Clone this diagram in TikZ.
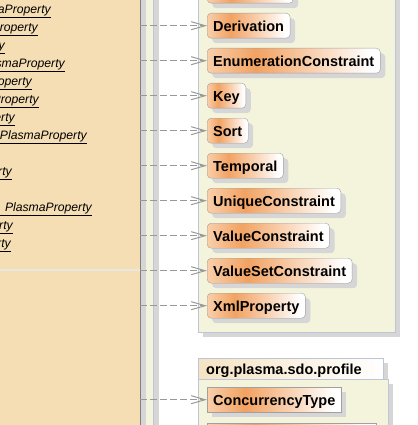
\documentclass[tikz,border=0pt]{standalone}
\usepackage{fontspec}
\setmainfont{Liberation Sans}
\usetikzlibrary{positioning,arrows.meta,shadows}

\definecolor{tanfill}{HTML}{F5DEB3}
\definecolor{pkgfill}{HTML}{F4F4DC}
\definecolor{pkgline}{HTML}{BCC6D8}
\definecolor{shadowgray}{HTML}{D6D6D6}
\definecolor{clsedge}{HTML}{F9CFAA}
\definecolor{clsmid}{HTML}{F2A262}
\definecolor{clsline}{HTML}{A0A0A0}
\definecolor{deparrow}{HTML}{999999}
\definecolor{tabfill}{HTML}{F5E3C2}
\definecolor{sepline}{HTML}{E9E7E2}

\pgfdeclarehorizontalshading{clsshade}{100bp}{color(0bp)=(clsedge); color(25bp)=(clsedge); color(39bp)=(clsmid); color(72bp)=(white); color(100bp)=(white)}

\tikzset{
  cls/.style={draw=clsline, shade, shading=clsshade, rounded corners=4pt,
    minimum height=25pt, inner xsep=6pt, text height=12pt, text depth=0pt,
    font=\bfseries\fontsize{14.5}{16}\selectfont,
    drop shadow={shadow xshift=5pt, shadow yshift=-5pt, fill=shadowgray, opacity=1}},
  clsbox/.style={cls, sharp corners},
  attr/.style={anchor=base east, inner sep=0pt, font=\itshape\fontsize{12.2}{14}\selectfont},
  dep/.style={draw=deparrow, line width=1pt, dash pattern=on 7pt off 3pt,
    -{Straight Barb[length=14pt,width=8pt]}},
}

\begin{document}
\begin{tikzpicture}[x=1pt, y=-1pt]
  \useasboundingbox (0,0) rectangle (417,425);
  \clip (0,0) rectangle (417,425);

  % left package with the PlasmaProperty class
  \fill[shadowgray] (-50,-50) rectangle (159,480);
  \filldraw[fill=pkgfill, draw=pkgline] (-50,-50) rectangle (153,480);
  \fill[shadowgray] (-50,-50) rectangle (146,480);
  \node (props) [draw=gray, fill=tanfill, minimum width=300pt, minimum height=540pt,
    anchor=north east, inner sep=0pt] at (140,-60) {};
  \coordinate (sep) at (0,270);
  \draw[sepline, line width=2pt] (props.west |- sep) -- (props.east |- sep);

  \node (a1) [attr] at (51,13.5) {\underline{derivation : PlasmaProperty}};
  \node (a2) [attr] at (38,31.5) {\underline{enumerationConstraint : PlasmaProperty}};
  \node (a3) [attr] at (5,49.5) {\underline{key : PlasmaProperty}};
  \node (a4) [attr] at (65,67.5) {\underline{sort : PlasmaProperty}};
  \node (a5) [attr] at (32,85.5) {\underline{temporal : PlasmaProperty}};
  \node (a6) [attr] at (39,103.5) {\underline{uniqueConstraint : PlasmaProperty}};
  \node (a7) [attr] at (15,121.5) {\underline{valueConstraint : PlasmaProperty}};
  \node (a8) [attr] at (87,139.5) {\underline{valueSetConstraint : PlasmaProperty}};
  \node (a9) [attr] at (12,175.5) {\underline{xmlProperty : PlasmaProperty}};
  \node (a10) [attr] at (92,211.5) {\underline{concurrency : PlasmaProperty}};
  \node (a11) [attr] at (13,229.5) {\underline{increment : PlasmaProperty}};
  \node (a12) [attr] at (11,247.5) {\underline{reference : PlasmaProperty}};

  % org.plasma.sdo.annotation
  \fill[shadowgray] (203,-45) rectangle (400,337);
  \filldraw[fill=pkgfill, draw=pkgline] (198,-50) rectangle (395,332);

  \node (prev) [cls, anchor=north west, minimum width=86pt] at (207,-22) {};
  \node (deriv) [cls, below=9.6pt of prev.south west, anchor=north west] {Derivation};
  \node (enum) [cls, below=9.6pt of deriv.south west, anchor=north west] {EnumerationConstraint};
  \node (key) [cls, below=9.6pt of enum.south west, anchor=north west] {Key};
  \node (sort) [cls, below=9.6pt of key.south west, anchor=north west] {Sort};
  \node (temp) [cls, below=9.6pt of sort.south west, anchor=north west] {Temporal};
  \node (uniq) [cls, below=9.6pt of temp.south west, anchor=north west] {UniqueConstraint};
  \node (val) [cls, below=9.6pt of uniq.south west, anchor=north west] {ValueConstraint};
  \node (valset) [cls, below=9.6pt of val.south west, anchor=north west] {ValueSetConstraint};
  \node (xml) [cls, below=9.6pt of valset.south west, anchor=north west] {XmlProperty};

  % org.plasma.sdo.profile
  \node (tab) [draw=pkgline, left color=tabfill, right color=white, anchor=north west,
    minimum height=21pt, text width=169pt, inner xsep=8pt, align=left,
    font=\bfseries\fontsize{14.5}{16}\selectfont, text height=11pt, text depth=0pt,
    drop shadow={shadow xshift=5pt, shadow yshift=-5pt, fill=shadowgray, opacity=1}]
    at (198,358) {org.plasma.sdo.profile};
  \fill[shadowgray] (203,384) rectangle (393,480);
  \filldraw[fill=pkgfill, draw=pkgline] (198,379) rectangle (388,480);

  \node (conc) [clsbox, anchor=north west] at (207,387) {ConcurrencyType};
  \node (next) [clsbox, below=10.6pt of conc.south west, anchor=north west, minimum width=169pt] {};

  \draw[dep] (props.east |- deriv.west) -- (deriv.west);
  \draw[dep] (props.east |- enum.west) -- (enum.west);
  \draw[dep] (props.east |- key.west) -- (key.west);
  \draw[dep] (props.east |- sort.west) -- (sort.west);
  \draw[dep] (props.east |- temp.west) -- (temp.west);
  \draw[dep] (props.east |- uniq.west) -- (uniq.west);
  \draw[dep] (props.east |- val.west) -- (val.west);
  \draw[dep] (props.east |- valset.west) -- (valset.west);
  \draw[dep] (props.east |- xml.west) -- (xml.west);
  \draw[dep] (props.east |- conc.west) -- (conc.west);
\end{tikzpicture}
\end{document}
